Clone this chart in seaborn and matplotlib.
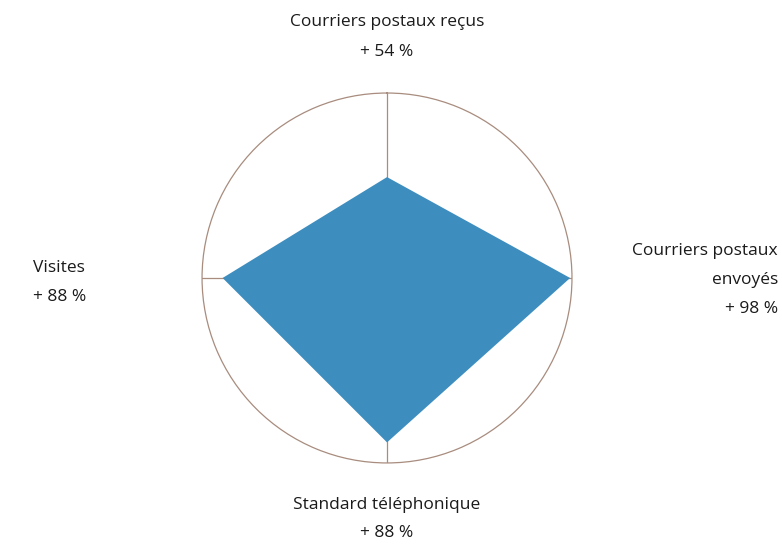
import numpy as np
import matplotlib
matplotlib.use("Agg")
import matplotlib.pyplot as plt
import seaborn as sns

# Données
categories = ["Courriers postaux reçus", "Courriers postaux\nenvoyés",
              "Standard téléphonique", "Visites"]
valeurs = [0.54, 0.98, 0.88, 0.88]
etiquettes = ["+ 54 %", "+ 98 %", "+ 88 %", "+ 88 %"]

sns.set_style("white")
plt.rcParams['font.family'] = ['Open Sans', 'DejaVu Sans']

couleur_fond = "#3d8dbf"
couleur_grille = "#a88c7e"

fig = plt.figure(figsize=(7.82, 5.44), dpi=100)
ax = fig.add_axes([0.2583, 0.149, 0.4732, 0.680], projection='polar')
ax.set_theta_offset(np.pi / 2)
ax.set_theta_direction(-1)

n = len(categories)
angles = np.linspace(0, 2 * np.pi, n, endpoint=False)

# Rayons
for a in angles:
    ax.plot([a, a], [0, 1], color=couleur_grille, lw=0.9, zorder=1)

a_ferme = np.append(angles, angles[0])
v_ferme = np.append(valeurs, valeurs[0])
ax.fill(a_ferme, v_ferme, color=couleur_fond, lw=0, zorder=2)

ax.set_ylim(0, 0.99)
ax.set_xticks([])
ax.set_yticks([])
ax.grid(False)
ax.spines['polar'].set_color(couleur_grille)
ax.spines['polar'].set_linewidth(0.9)

fs = 12.5
col = "#1a1a1a"
fig.text(387 / 782, 1 - 22 / 544, categories[0], ha='center', va='center', fontsize=fs, color=col)
fig.text(387 / 782, 1 - 52 / 544, etiquettes[0], ha='center', va='center', fontsize=fs, color=col)

fig.text(778 / 782, 1 - 251 / 544, "Courriers postaux", ha='right', va='center', fontsize=fs, color=col)
fig.text(778 / 782, 1 - 280 / 544, "envoyés", ha='right', va='center', fontsize=fs, color=col)
fig.text(778 / 782, 1 - 309 / 544, etiquettes[1], ha='right', va='center', fontsize=fs, color=col)

fig.text(387 / 782, 1 - 505 / 544, categories[2], ha='center', va='center', fontsize=fs, color=col)
fig.text(387 / 782, 1 - 533 / 544, etiquettes[2], ha='center', va='center', fontsize=fs, color=col)

fig.text(33 / 782, 1 - 268 / 544, categories[3], ha='left', va='center', fontsize=fs, color=col)
fig.text(33 / 782, 1 - 297 / 544, etiquettes[3], ha='left', va='center', fontsize=fs, color=col)

fig.savefig("out.png", dpi=100)
